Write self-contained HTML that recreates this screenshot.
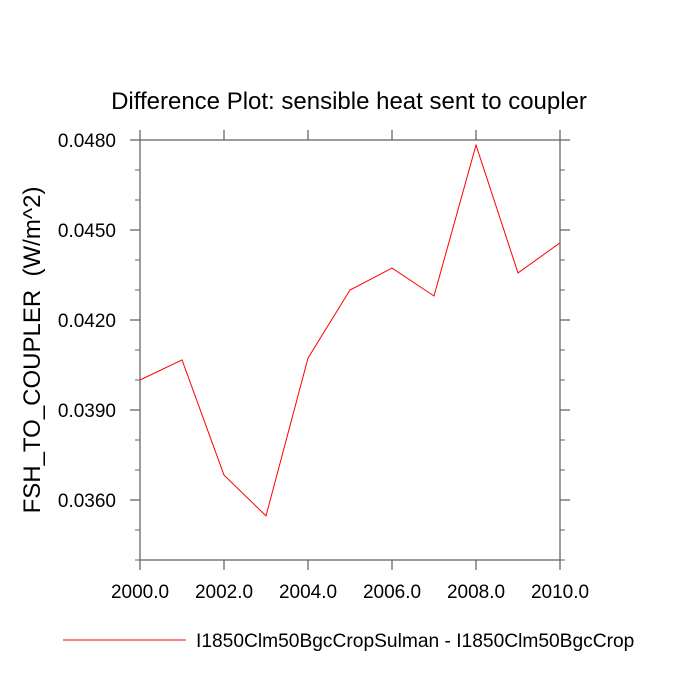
<!DOCTYPE html>
<html><head><meta charset="utf-8"><style>body{margin:0;background:#fff}svg{display:block}text{font-family:"Liberation Sans",sans-serif}</style></head>
<body>
<svg id="chart" width="700" height="700" viewBox="0 0 700 700">
<text x="349" y="109" font-size="24" text-anchor="middle">Difference Plot: sensible heat sent to coupler</text>
<text transform="translate(40,350) rotate(-90)" font-size="24" text-anchor="middle" xml:space="preserve">FSH_TO_COUPLER  (W/m^2)</text>
<g id="axes"></g>
<g id="series"></g>
<line x1="63" y1="640" x2="186" y2="640" stroke="#ff0000" stroke-width="1"/>
<text x="196" y="647" font-size="19.2">I1850Clm50BgcCropSulman - I1850Clm50BgcCrop</text>
</svg>
<script>
const years=[2000,2001,2002,2003,2004,2005,2006,2007,2008,2009,2010];
const values=[0.0400,0.04067,0.03683,0.03547,0.04073,0.0430,0.04373,0.0428,0.04783,0.04357,0.04457];
const yTicks=[0.036,0.039,0.042,0.045,0.048];
const yTickLabels=["0.0360","0.0390","0.0420","0.0450","0.0480"];
const xTicks=[2000,2002,2004,2006,2008,2010];
const xTickLabels=["2000.0","2002.0","2004.0","2006.0","2008.0","2010.0"];
const L=140,R=560,T=140,B=560,ymin=0.034,ymax=0.048,xmin=2000,xmax=2010;
const sx=v=>L+(v-xmin)/(xmax-xmin)*(R-L);
const sy=v=>B-(v-ymin)/(ymax-ymin)*(B-T);
const NS="http://www.w3.org/2000/svg";
const ax=document.getElementById('axes'),se=document.getElementById('series');
function ln(x1,y1,x2,y2,name,w){const e=document.createElementNS(NS,'line');e.setAttribute('x1',x1);e.setAttribute('y1',y1);e.setAttribute('x2',x2);e.setAttribute('y2',y2);e.setAttribute('stroke','#666');e.setAttribute('stroke-width',w||1.3);


ax.appendChild(e);}
function tx(x,y,s,anchor,name){const e=document.createElementNS(NS,'text');e.setAttribute('x',x);e.setAttribute('y',y);e.setAttribute('font-size','19');e.setAttribute('text-anchor',anchor);e.textContent=s;


ax.appendChild(e);}
const box=document.createElementNS(NS,'rect');box.setAttribute('x',L);box.setAttribute('y',T);box.setAttribute('width',R-L);box.setAttribute('height',B-T);box.setAttribute('fill','none');box.setAttribute('stroke','#666');box.setAttribute('stroke-width','1.3');


ax.appendChild(box);
for(let v=ymin;v<=ymax+1e-9;v+=0.001){const y=sy(v);ln(L-5,y,L,y,'y-minor-tick',1);ln(R,y,R+5,y,'y-minor-tick',1);}
yTicks.forEach((v,i)=>{const y=sy(v);ln(L-10,y,L,y,'y-major-tick');ln(R,y,R+10,y,'y-major-tick');tx(L-24,y+7,yTickLabels[i],'end','y-tick-label');});
xTicks.forEach((v,i)=>{const x=sx(v);ln(x,B,x,B+10,'x-major-tick');ln(x,T-10,x,T,'x-major-tick');tx(x,B+38,xTickLabels[i],'middle','x-tick-label');});
const p=document.createElementNS(NS,'polyline');
p.setAttribute('points',years.map((y,i)=>sx(y)+','+sy(values[i])).join(' '));
p.setAttribute('fill','none');p.setAttribute('stroke','#ff0000');p.setAttribute('stroke-width','1');


se.appendChild(p);
</script>
</body></html>
